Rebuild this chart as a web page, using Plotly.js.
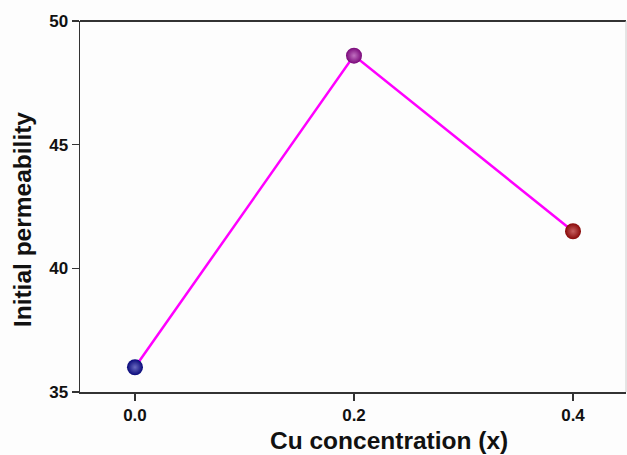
<!DOCTYPE html>
<html>
<head>
<meta charset="utf-8">
<script src="https://cdn.plot.ly/plotly-3.0.1.min.js"></script>
<style>html,body{margin:0;padding:0;background:#fdfdfd;}#chart{width:627px;height:455px;}</style>
</head>
<body>
<div id="chart"></div>
<script>
const cuConcentration = [0.0, 0.2, 0.4];
const initialPermeability = [36.0, 48.6, 41.5];
const pointColors = ['#08087a', '#7a087a', '#880808'];
const highlightColors = ['#6a6ac0', '#c070c0', '#c86060'];
const xTickVals = [0.0, 0.2, 0.4];
const xTickText = ['0.0', '0.2', '0.4'];
const yTickVals = [35, 40, 45, 50];
const yTickText = ['35', '40', '45', '50'];
const xTitle = 'Cu concentration (x)';
const yTitle = 'Initial permeability';

const bold = s => '<b>' + s + '</b>';
const FONT = 'Liberation Sans, Arial, sans-serif';

const traces = [
  {
    x: cuConcentration, y: initialPermeability, mode: 'lines', type: 'scatter',
    line: {color: '#ff00ff', width: 2.5}, hoverinfo: 'skip', showlegend: false
  },
  {
    x: cuConcentration, y: initialPermeability, mode: 'markers', type: 'scatter',
    marker: {size: 16, color: pointColors, line: {width: 0},
      gradient: {type: 'radial', color: highlightColors}},
    showlegend: false
  }
];

const layout = {
  width: 627, height: 455,
  margin: {l: 80, r: 1, t: 21, b: 63},
  paper_bgcolor: '#fdfdfd', plot_bgcolor: '#fdfdfd',
  font: {family: FONT, color: '#111', size: 17},
  xaxis: {
    range: [-0.0502, 0.4484], tickvals: xTickVals, ticktext: xTickText.map(bold),
    ticks: 'outside', ticklen: 7, tickwidth: 1.5, tickcolor: '#333',
    showgrid: false, zeroline: false, showline: true, linecolor: '#333', linewidth: 1.5,
    tickfont: {size: 17, family: FONT, color: '#111'}
  },
  yaxis: {
    range: [35, 50], tickvals: yTickVals, ticktext: yTickText.map(bold),
    ticks: 'outside', ticklen: 7, tickwidth: 1.5, tickcolor: '#333',
    showgrid: false, zeroline: false, showline: true, linecolor: '#333', linewidth: 1.5,
    tickfont: {size: 17, family: FONT, color: '#111'}
  },
  annotations: [
    {text: bold(xTitle), xref: 'paper', yref: 'paper', x: 0.566, y: -0.132,
     xanchor: 'center', yanchor: 'middle', showarrow: false,
     font: {size: 24.5, family: FONT, color: '#111'}},
    {text: bold(yTitle), xref: 'paper', yref: 'paper', x: -0.106, y: 0.4636,
     xanchor: 'center', yanchor: 'middle', showarrow: false, textangle: -90,
     font: {size: 24.5, family: FONT, color: '#111'}}
  ],
  shapes: [
    {type: 'line', xref: 'paper', yref: 'paper', x0: 0, x1: 1, y0: 1, y1: 1,
     line: {color: '#333', width: 2}},
    {type: 'line', xref: 'paper', yref: 'paper', x0: 1, x1: 1, y0: 0, y1: 1,
     line: {color: '#ccc', width: 1}}
  ]
};

Plotly.newPlot('chart', traces, layout, {displayModeBar: false, staticPlot: true});
</script>
</body>
</html>
